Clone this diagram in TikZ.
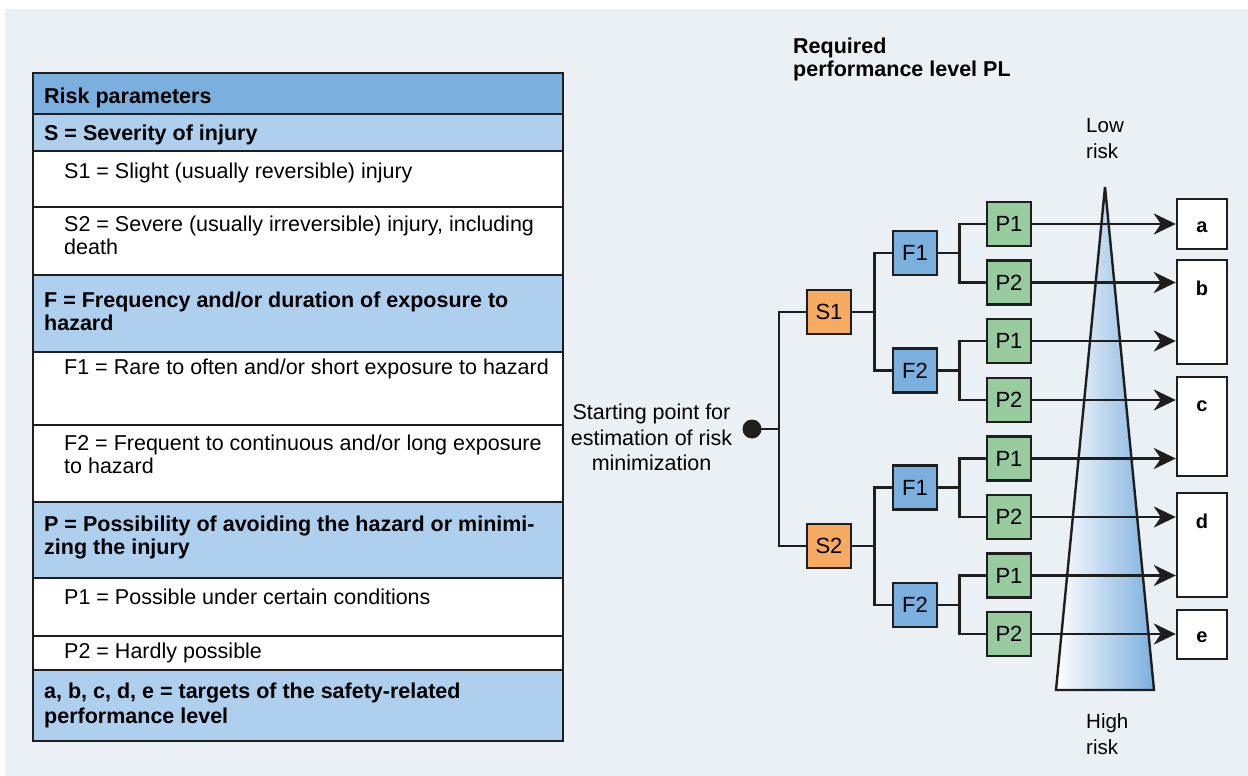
\documentclass[tikz,border=0pt]{standalone}
\usepackage{fontspec}
\setmainfont{Liberation Sans}
\usetikzlibrary{arrows.meta}
\definecolor{bgc}{HTML}{EAF0F3}
\definecolor{hdr}{HTML}{7BAFDE}
\definecolor{lt}{HTML}{AECFED}
\definecolor{orng}{HTML}{F7AA62}
\definecolor{fblue}{HTML}{7AAFDE}
\definecolor{grn}{HTML}{98CC9E}
\definecolor{linec}{HTML}{1E1E1E}
\begin{document}
\begin{tikzpicture}[x=1pt,y=-1pt]
    \tikzset{
        row/.style={draw=linec, line width=2.4pt},
        txt/.style={anchor=west, align=left, inner sep=0pt, font=\fontsize{21.5}{23}\selectfont},
        hd/.style={anchor=west, align=left, inner sep=0pt, font=\fontsize{21.5}{23}\selectfont\bfseries},
        box/.style={draw=linec, line width=2.4pt, minimum size=44pt, inner sep=0pt, font=\fontsize{22}{24}\selectfont},
        sbox/.style={box, fill=orng},
        fbox/.style={box, fill=fblue},
        pbox/.style={box, fill=grn},
        tgbox/.style={draw=linec, line width=2.4pt, fill=white, minimum width=50pt, inner sep=0pt},
        ln/.style={draw=linec, line width=2.6pt},
        arr/.style={ln, -{Stealth[length=22pt, width=21pt, inset=7pt]}}
    }
    \useasboundingbox (0,0) rectangle (1248,776);
    \fill[white] (0,0) rectangle (1248,776);
    \fill[bgc] (5,9) rectangle (1248,776);

    % table of risk parameters
    \foreach \t/\b/\c in {73/114/hdr, 114/151/lt, 151/207/white, 207/275/white,
        275/352/lt, 352/425/white, 425/502/white, 502/578/lt,
        578/636/white, 636/670/white, 670/741/lt}{
        \draw[row, fill=\c] (33,\t) rectangle (563,\b);
    }
    \node[hd] (rp) at (44,98) {Risk parameters};
    \node[hd] (sh) at (44,135) {S = Severity of injury};
    \node[txt] (s1t) at (64,173) {S1 = Slight (usually reversible) injury};
    \node[txt] (s2t) at (64,235) {S2 = Severe (usually irreversible) injury, including\\death};
    \node[hd] (fh) at (44,311) {F = Frequency and/or duration of exposure to\\hazard};
    \node[txt] (f1t) at (64,369) {F1 = Rare to often and/or short exposure to hazard};
    \node[txt] (f2t) at (64,454) {F2 = Frequent to continuous and/or long exposure\\to hazard};
    \node[hd] (ph) at (44,537.5) {P = Possibility of avoiding the hazard or minimi-\\zing the injury};
    \node[txt] (p1t) at (64,597) {P1 = Possible under certain conditions};
    \node[txt] (p2t) at (64,653) {P2 = Hardly possible};
    \node[hd, font=\fontsize{21.5}{25}\selectfont\bfseries] (tgt) at (44,705) {a, b, c, d, e = targets of the safety-related\\performance level};

    % risk graph
    \node[hd, font=\fontsize{21.5}{23}\selectfont\bfseries] (pl) at (793,59) {Required\\performance level PL};
    \node[txt, font=\fontsize{20.5}{26}\selectfont] (low) at (1086,139) {Low\\risk};
    \node[txt, font=\fontsize{20.5}{26}\selectfont] (high) at (1086,734.5) {High\\risk};
    \node[align=center, inner sep=0pt, font=\fontsize{21.5}{25.5}\selectfont] (sttxt) at (651.5,437.5) {Starting point for\\estimation of risk\\minimization};
    \node[circle, fill=linec, minimum size=19pt, inner sep=0pt] (st) at (752,429) {};
    \coordinate (j0) at (779,429);
    \draw[ln] (st.center) -- (j0);

    \shade[left color=white, right color=hdr, draw=linec, line width=2.4pt, line join=miter]
        (1105,187) -- (1154,690) -- (1056,690) -- cycle;

    \node[tgbox, minimum height=50pt] (a) at (1202,224) {};
    \node[tgbox, minimum height=104pt] (b) at (1202,312) {};
    \node[tgbox, minimum height=99pt] (c) at (1202,426.5) {};
    \node[tgbox, minimum height=104pt] (d) at (1202,545) {};
    \node[tgbox, minimum height=49pt] (e) at (1202,634.5) {};
    \foreach \n/\y in {a/227, b/288, c/406, d/521, e/637}{
        \node[font=\fontsize{20}{22}\selectfont\bfseries, inner sep=0pt] (l\n) at (1202,\y) {\n};
    }

    \foreach \n/\y in {S1/312, S2/546}{
        \node[sbox] (\n) at (829,\y) {\n};
        \draw[ln] (j0) |- (\n);
    }
    \foreach \n/\lab/\y/\up in {F11/F1/253/S1, F12/F2/370.5/S1, F21/F1/487.5/S2, F22/F2/605/S2}{
        \node[fbox] (\n) at (915,\y) {\lab};
        \draw[ln] (\up.east) -- ++(22,0) |- (\n);
    }
    \foreach \n/\lab/\y/\up/\tg in {P1/P1/224/F11/a, P2/P2/282.5/F11/b, P3/P1/341/F12/b, P4/P2/400/F12/c,
        P5/P1/458.5/F21/c, P6/P2/517/F21/d, P7/P1/575.5/F22/d, P8/P2/634/F22/e}{
        \node[pbox] (\n) at (1009,\y) {\lab};
        \draw[ln] (\up.east) -- ++(21,0) |- (\n);
        \draw[arr] (\n) -- (\n -| \tg.west);
    }
\end{tikzpicture}
\end{document}
